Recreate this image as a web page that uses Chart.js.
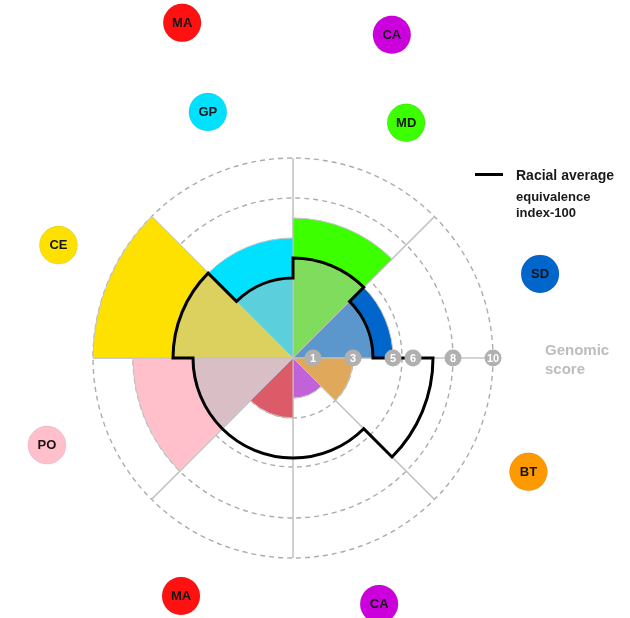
<!DOCTYPE html>
<html>
<head>
<meta charset="utf-8">
<script src="https://cdn.jsdelivr.net/npm/chart.js@4.4.1/dist/chart.umd.min.js"></script>
<style>
body{margin:0;background:#fff;font-family:"Liberation Sans",Arial,sans-serif;}
#wrap{position:relative;width:630px;height:618px;overflow:hidden;}
#polar{position:absolute;left:0;top:0;}
#swatch{position:absolute;left:475px;top:173px;width:28px;height:3px;background:#000;}
#legTitle{position:absolute;left:516px;top:167px;font-size:14px;line-height:16px;font-weight:bold;color:#1a1a1a;white-space:nowrap;}
#legSub{position:absolute;left:516px;top:189px;font-size:13px;line-height:15.5px;font-weight:bold;color:#1a1a1a;}
#axisTitle{position:absolute;left:545px;top:341px;font-size:15px;line-height:18.6px;font-weight:bold;color:#bdbdbd;}
</style>
</head>
<body>
<div id="wrap">
<canvas id="polar" width="630" height="618"></canvas>
<div id="swatch"></div>
<div id="legTitle">Racial average</div>
<div id="legSub">equivalence<br>index-100</div>
<div id="axisTitle">Genomic<br>score</div>
</div>
<script>
// sectors clockwise from 12 o'clock
const groups=["MD","SD","BT","CA","MA","PO","CE","GP"];
const scores=[7,5,3,2,3,8,10,6];
const racialAverage=[5,4,7,5,5,5,6,4];
const tickLabels=[1,3,5,6,8,10];
const gridValues=[0,3,5.45,8,10];
const badgeNames=["MA","CA","MD","SD","BT","CA","MA","PO","CE","GP"];

const fullColors=["#3cff00","#0066cc","#ff9900","#cc00dd","#ee1111","#ffc0cb","#ffe100","#00e1ff"];
const mutedColors=["#7fdc5c","#5b96cc","#e0a85a","#c062d8","#dd5a68","#d9bec6","#dcd05e","#5ccfdc"];
const badgeColors={MA:"#ff1111",CA:"#cc00dd",MD:"#3cff00",SD:"#0066cc",BT:"#ff9900",PO:"#ffc0cb",CE:"#ffe100",GP:"#00e1ff"};
// badge placement: angle (deg, clockwise from top) and distance from centre
const badgeSpots=[[341.7,353],[17,338],[25.7,261],[71.2,261],[115.8,261.5],[160.7,260.6],[205.2,263],[250.5,261],[295.7,260.3],[340.9,260.3]];

const inner=scores.map((s,i)=>Math.min(s,racialAverage[i]));

const decor={
id:"decor",
afterDatasetsDraw(chart){
const ctx=chart.ctx;
const r=chart.scales.r;
// racial average step outline
const arcs=chart.getDatasetMeta(0).data;
ctx.save();
ctx.beginPath();
arcs.forEach(a=>{
const p=a.getProps(["x","y","outerRadius","startAngle","endAngle"]);
ctx.arc(p.x,p.y,p.outerRadius,p.startAngle,p.endAngle);
});
ctx.closePath();
ctx.lineWidth=3;
ctx.lineJoin="miter";
ctx.strokeStyle="#000";
ctx.stroke();

// score badges on the right axis
ctx.textAlign="center";
ctx.textBaseline="middle";
ctx.font="bold 11px 'Liberation Sans', Arial, sans-serif";
tickLabels.forEach(t=>{
const x=r.xCenter+r.getDistanceFromCenterForValue(t);
ctx.beginPath();
ctx.arc(x,r.yCenter,8.5,0,Math.PI*2);
ctx.fillStyle="#b0b0b0";
ctx.fill();
ctx.fillStyle="#fff";
ctx.fillText(String(t),x,r.yCenter+0.5);
});

// group badges around the chart
ctx.font="bold 13px 'Liberation Sans', Arial, sans-serif";
badgeNames.forEach((n,i)=>{
const a=badgeSpots[i][0]*Math.PI/180,d=badgeSpots[i][1];
const x=r.xCenter+d*Math.sin(a),y=r.yCenter-d*Math.cos(a);
ctx.beginPath();
ctx.arc(x,y,19,0,Math.PI*2);
ctx.fillStyle=badgeColors[n];
ctx.fill();
ctx.lineWidth=1;
ctx.strokeStyle="rgba(0,0,0,0.08)";
ctx.stroke();
ctx.fillStyle="#151515";
ctx.fillText(n,x,y+0.5);
});
ctx.restore();
}
};

new Chart(document.getElementById("polar"),{
type:"polarArea",
data:{
labels:groups,
datasets:[
{label:"Racial average",data:racialAverage,backgroundColor:"rgba(0,0,0,0)",borderWidth:0},
{label:"inner",data:inner,backgroundColor:mutedColors,borderColor:"#c4c4c4",borderWidth:1},
{label:"Genomic score",data:scores,backgroundColor:fullColors,borderColor:"#c4c4c4",borderWidth:1}
]
},
options:{
responsive:false,
animation:false,
events:[],
layout:{padding:{left:93,right:137,top:158,bottom:60}},
plugins:{legend:{display:false},tooltip:{enabled:false}},
scales:{
r:{
min:0,
max:10,
startAngle:0,
afterBuildTicks:s=>{s.ticks=gridValues.map(v=>({value:v}));},
ticks:{display:false},
pointLabels:{display:false},
grid:{circular:true,color:"#acacac",lineWidth:1.4},
border:{dash:[5,4]},
angleLines:{display:true,color:"#c4c4c4",lineWidth:1.6}
}
}
},
plugins:[decor]
});
</script>
</body>
</html>
